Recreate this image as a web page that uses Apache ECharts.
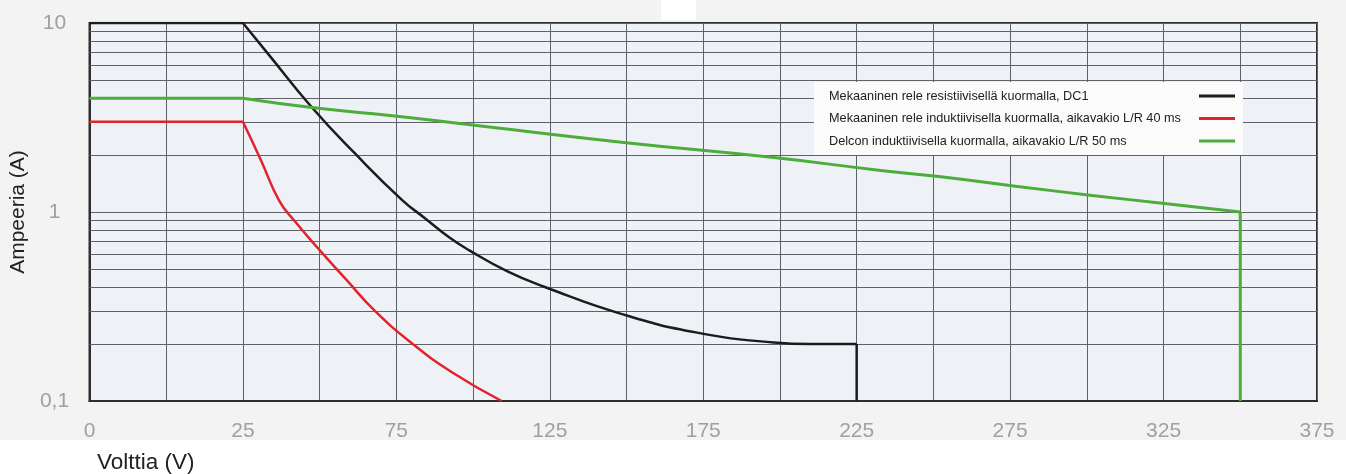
<!DOCTYPE html>
<html>
<head>
<meta charset="utf-8">
<script src="https://cdn.jsdelivr.net/npm/echarts@6/dist/echarts.min.js"></script>
<style>
html,body{margin:0;padding:0;background:#f3f3f3;}
#chart{width:1346px;height:474px;}
</style>
</head>
<body>
<div id="chart"></div>
<script>
// X positions are read in the axis' own units: the grid has one line every 25 units,
// the left edge (labelled "0") sits at -25, then 25, 75, 125 ... 375 every second line.
const xTickLabels = ['0', '25', '75', '125', '175', '225', '275', '325', '375'];
const yTickLabels = { '0.1': '0,1', '1': '1', '10': '10' };
const minorY = [0.2, 0.3, 0.4, 0.5, 0.6, 0.7, 0.8, 0.9, 2, 3, 4, 5, 6, 7, 8, 9];

const seriesNames = [
  'Mekaaninen rele resistiivisellä kuormalla, DC1',
  'Mekaaninen rele induktiivisella kuormalla, aikavakio L/R 40 ms',
  'Delcon induktiivisella kuormalla, aikavakio L/R 50 ms'
];
const seriesColors = ['#1c1c1c', '#e2232b', '#4cad3a'];

const blackData = [
  [-25, 10], [25, 10], [33.4, 6.8], [47.5, 3.57], [61.5, 2.04], [76.8, 1.16],
  [84.2, 0.93], [92.4, 0.73], [98.9, 0.625], [111.2, 0.485], [123.6, 0.40], [148, 0.29],
  [173, 0.23], [198, 0.204], [210, 0.2], [225, 0.2], [225, 0.1]
];
const redData = [
  [-25, 3], [25, 3], [30.9, 1.875], [36.8, 1.15], [42.0, 0.89], [49.2, 0.65],
  [58.6, 0.44], [68.0, 0.30], [80.4, 0.20], [93.1, 0.142], [109.3, 0.1]
];
const greenData = [
  [-25, 4], [25, 4], [47.5, 3.57], [74.5, 3.22], [98.5, 2.9], [148.3, 2.34],
  [198, 1.94], [232.8, 1.66], [251.7, 1.54], [276.7, 1.37], [301.7, 1.224],
  [326, 1.106], [350, 1.0], [350, 0.1]
];

const chart = echarts.init(document.getElementById('chart'), null, { renderer: 'canvas' });
const gridLineColor = '#5d626a';
const tickFont = { color: '#a0a0a0', fontSize: 21, fontFamily: 'Liberation Sans' };

// each curve: flat start (straight), curved middle (smoothed), vertical drop (straight)
function curveSeries(idx, data, width, dropAtEnd) {
  const name = seriesNames[idx], color = seriesColors[idx];
  const common = { name: name, type: 'line', showSymbol: false, z: 10,
    lineStyle: { color: color, width: width }, itemStyle: { color: color } };
  const endCurve = dropAtEnd ? data.length - 1 : data.length;
  const out = [
    Object.assign({}, common, { data: data.slice(0, 2) }),
    Object.assign({}, common, { data: data.slice(1, endCurve), smooth: 0.5 })
  ];
  if (dropAtEnd) out.push(Object.assign({}, common, { data: data.slice(data.length - 2) }));
  return out;
}

chart.setOption({
  backgroundColor: '#f3f3f3',
  animation: false,
  graphic: [
    { type: 'rect', z: -1, shape: { x: 0, y: 440, width: 1346, height: 34 }, style: { fill: '#ffffff' } },
    { type: 'rect', z: -1, shape: { x: 661, y: 0, width: 35, height: 20 }, style: { fill: '#ffffff' } }
  ],
  title: {
    text: 'Volttia (V)', left: 97, top: 451, padding: 0,
    textStyle: { fontSize: 22.5, fontWeight: 'normal', color: '#222', fontFamily: 'Liberation Sans' }
  },
  grid: {
    left: 87, right: 29, top: 23, bottom: 73,
    show: true, backgroundColor: '#eef1f6', borderColor: '#2e2e2e', borderWidth: 2
  },
  legend: {
    data: seriesNames,
    orient: 'vertical', right: 103, top: 82, z: 20,
    align: 'right', icon: 'rect', itemWidth: 36, itemHeight: 3, itemGap: 6.5,
    padding: [6, 8, 6, 15],
    backgroundColor: '#fbfbfb',
    formatter: function (name) { return '{t|' + name + '}'; },
    textStyle: {
      fontSize: 12.7, color: '#222', lineHeight: 16, fontFamily: 'Liberation Sans',
      rich: { t: { width: 365, align: 'left', fontSize: 12.7, color: '#222', fontFamily: 'Liberation Sans', lineHeight: 16 } }
    }
  },
  xAxis: {
    type: 'value', min: -25, max: 375, interval: 25,
    axisLine: { show: true, onZero: false, lineStyle: { color: '#2e2e2e', width: 2 } },
    axisTick: { show: false },
    splitLine: { show: true, lineStyle: { color: gridLineColor, width: 1 } },
    axisLabel: Object.assign({
      margin: 20,
      formatter: function (v) {
        const idx = Math.round((v + 25) / 25);
        return idx % 2 === 0 ? (xTickLabels[idx / 2] || '') : '';
      }
    }, tickFont)
  },
  yAxis: {
    type: 'log', logBase: 10, min: 0.1, max: 10,
    name: 'Ampeeria (A)', nameLocation: 'middle', nameGap: 58, nameRotate: 90,
    nameTextStyle: { fontSize: 21, color: '#222', fontFamily: 'Liberation Sans' },
    axisLine: { show: true, onZero: false, lineStyle: { color: '#2e2e2e', width: 2 } },
    axisTick: { show: false },
    splitLine: { show: true, lineStyle: { color: gridLineColor, width: 1 } },
    axisLabel: Object.assign({
      margin: 35, align: 'center',
      formatter: function (v) {
        const key = String(Math.round(v * 10) / 10);
        return yTickLabels[key] !== undefined ? yTickLabels[key] : '';
      }
    }, tickFont)
  },
  series: [
    {
      name: 'grid-minor', type: 'line', data: [], silent: true, z: 1,
      markLine: {
        z: 1, silent: true, symbol: 'none', label: { show: false },
        lineStyle: { color: gridLineColor, width: 1, type: 'solid' },
        data: minorY.map(v => ({ yAxis: v }))
      }
    }
  ].concat(
    curveSeries(0, blackData, 2.5, true),
    curveSeries(1, redData, 2.5, false),
    curveSeries(2, greenData, 3, true)
  )
});
</script>
</body>
</html>
